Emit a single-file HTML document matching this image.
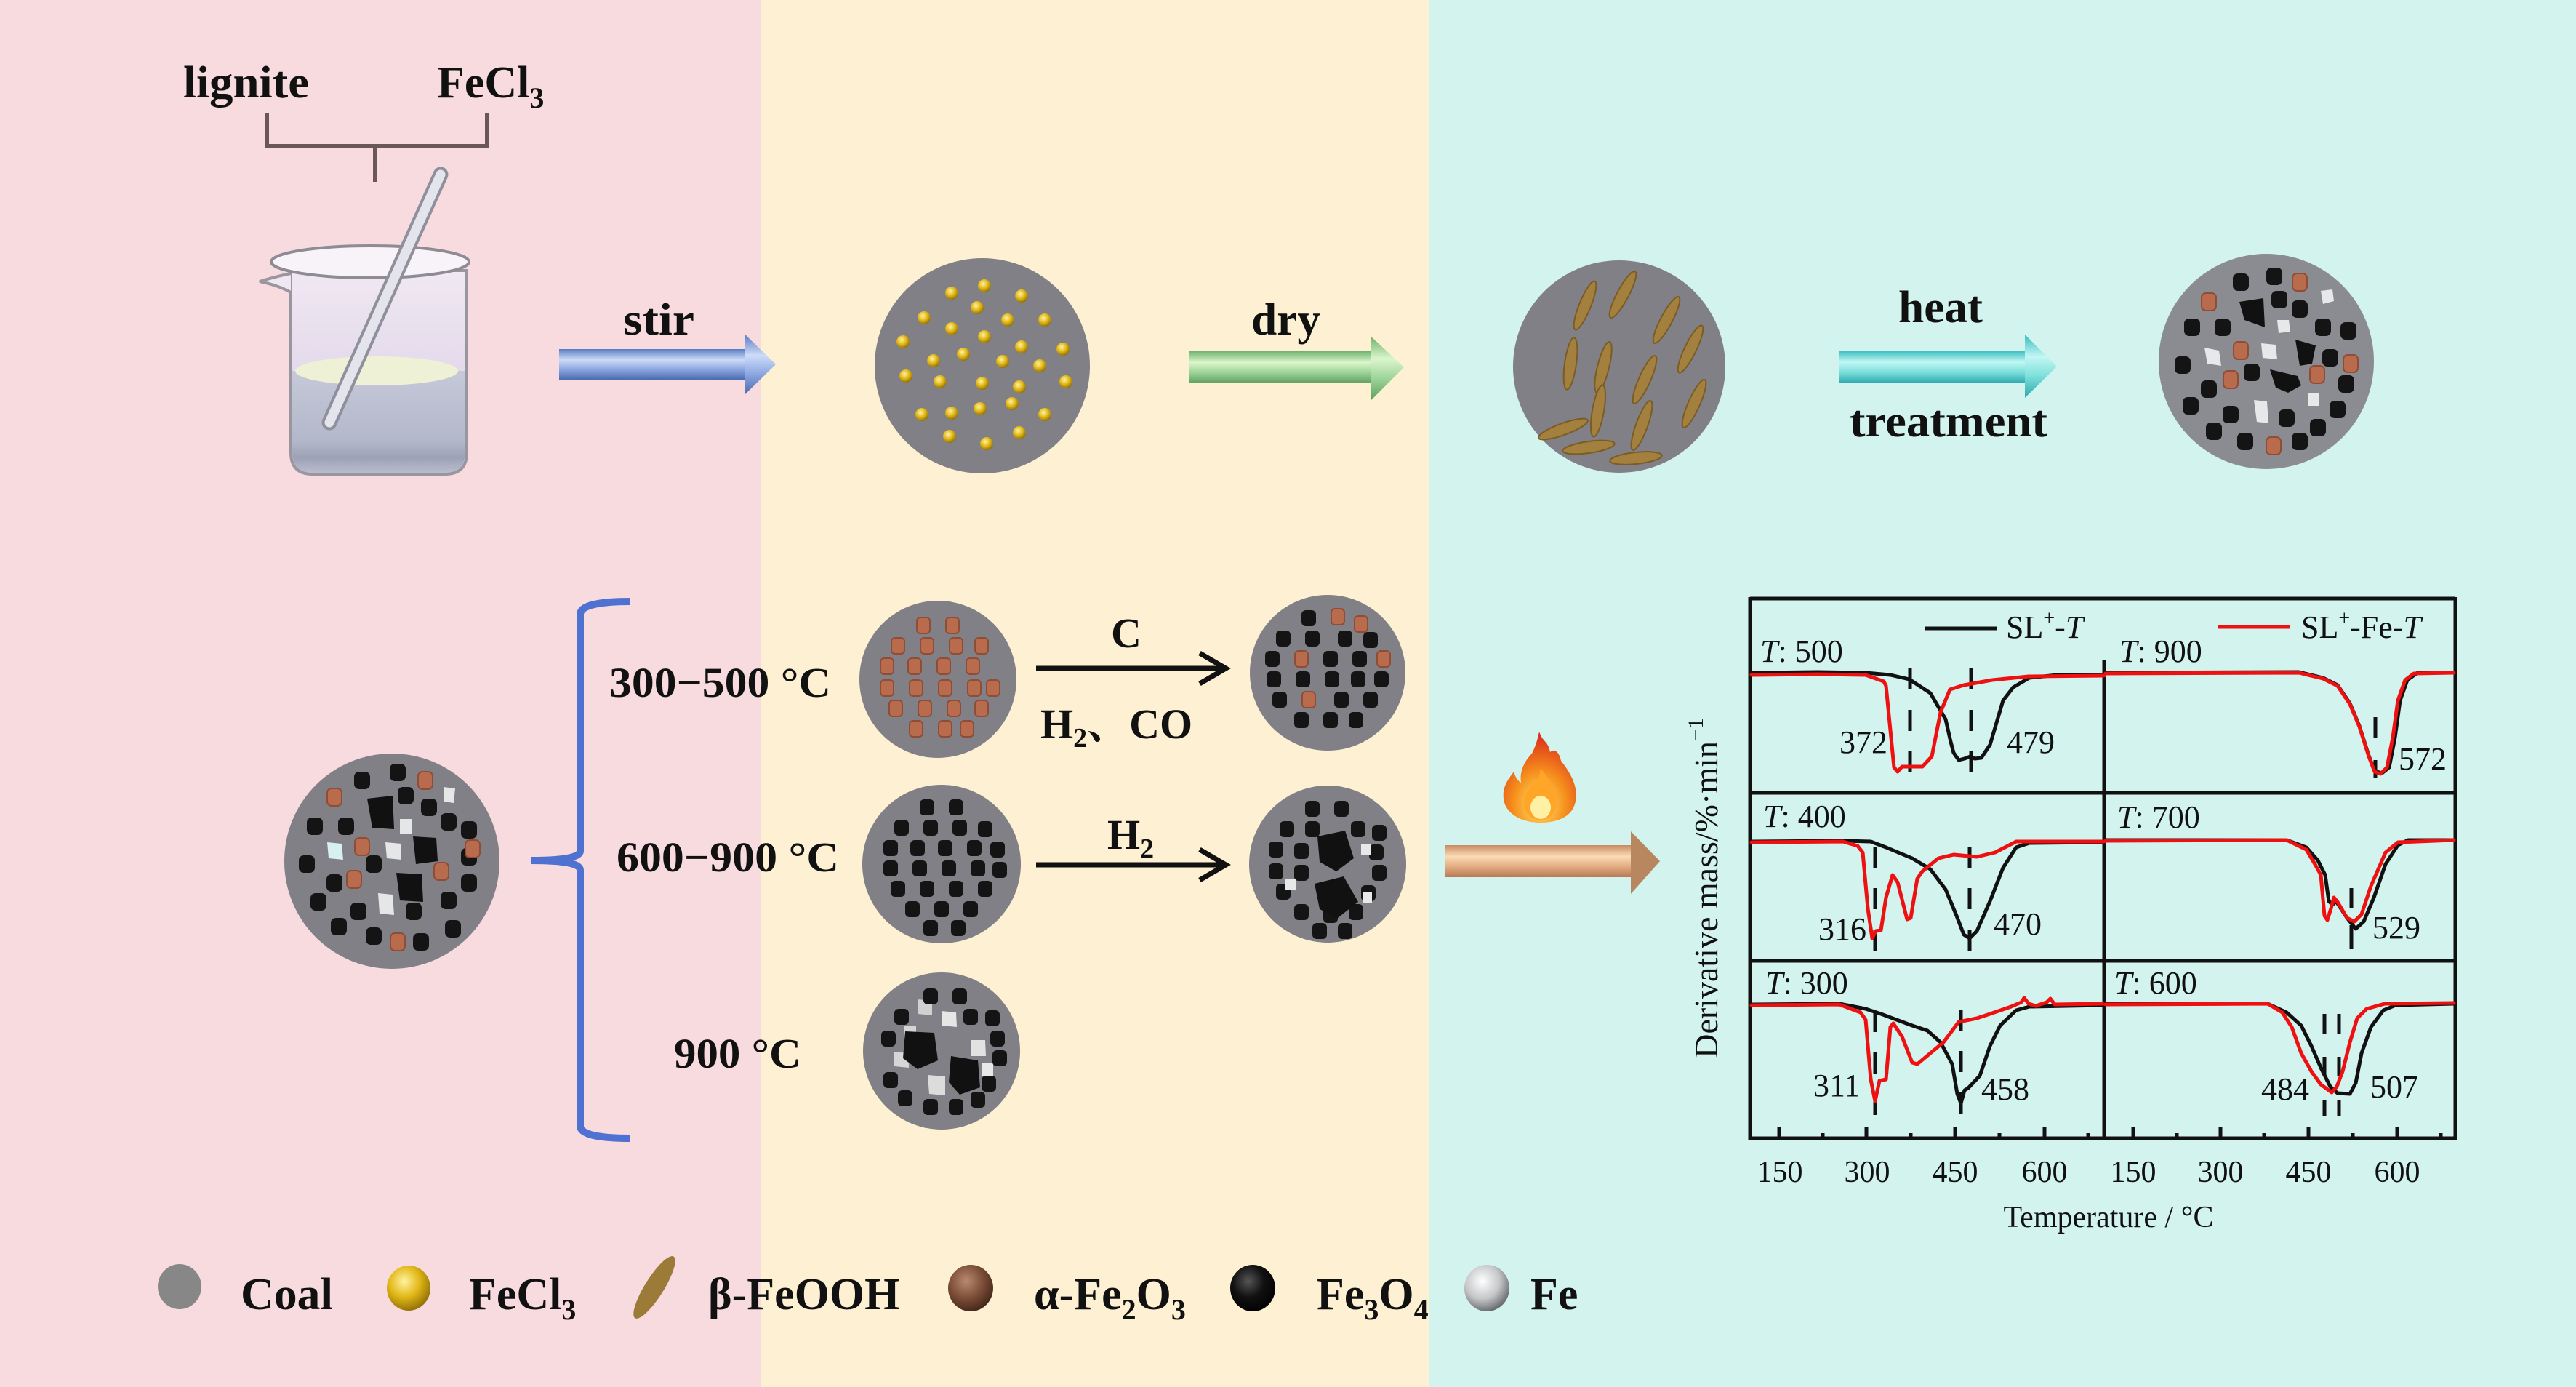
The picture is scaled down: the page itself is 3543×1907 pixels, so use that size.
<!DOCTYPE html>
<html><head><meta charset="utf-8"><style>
html,body{margin:0;padding:0;background:#fff;}
svg{display:block;}
.b{font-family:"Liberation Serif","Noto Serif CJK SC",serif;font-weight:bold;fill:#111;}
.r{font-family:"Liberation Serif","Noto Serif CJK SC",serif;fill:#111;}
</style></head><body>
<svg width="3543" height="1907" viewBox="0 0 3543 1907" xmlns="http://www.w3.org/2000/svg">
<defs>
<linearGradient id="gBlue" x1="0" y1="0" x2="0" y2="1"><stop offset="0" stop-color="#5a7cc4"/><stop offset=".35" stop-color="#cddcf8"/><stop offset=".65" stop-color="#8fa9e2"/><stop offset="1" stop-color="#4c6bb0"/></linearGradient>
<linearGradient id="gGreen" x1="0" y1="0" x2="0" y2="1"><stop offset="0" stop-color="#6fb36f"/><stop offset=".35" stop-color="#dcf6cc"/><stop offset=".65" stop-color="#9fd59a"/><stop offset="1" stop-color="#5fa060"/></linearGradient>
<linearGradient id="gCyan" x1="0" y1="0" x2="0" y2="1"><stop offset="0" stop-color="#36bcbf"/><stop offset=".35" stop-color="#c2f7f4"/><stop offset=".65" stop-color="#7fe0dc"/><stop offset="1" stop-color="#2ea9ad"/></linearGradient>
<linearGradient id="gOrange" x1="0" y1="0" x2="0" y2="1"><stop offset="0" stop-color="#c88a62"/><stop offset=".35" stop-color="#fadcb6"/><stop offset=".65" stop-color="#e4ae84"/><stop offset="1" stop-color="#b87a55"/></linearGradient>
<linearGradient id="gGlass" x1="0" y1="0" x2="0" y2="1"><stop offset="0" stop-color="#f0e8f2"/><stop offset="1" stop-color="#d6cbe5"/></linearGradient>
<linearGradient id="gLiq" x1="0" y1="0" x2="0" y2="1"><stop offset="0" stop-color="#c5c9d8"/><stop offset=".7" stop-color="#b2b7ca"/><stop offset=".85" stop-color="#9ca1b5"/><stop offset="1" stop-color="#b8bccc"/></linearGradient>
<radialGradient id="gGold" cx=".4" cy=".35" r=".7"><stop offset="0" stop-color="#fff3a0"/><stop offset=".5" stop-color="#e2b818"/><stop offset="1" stop-color="#8a6a05"/></radialGradient>
<radialGradient id="gBrownB" cx=".4" cy=".35" r=".7"><stop offset="0" stop-color="#b98a70"/><stop offset=".55" stop-color="#7a4c36"/><stop offset="1" stop-color="#3e2418"/></radialGradient>
<radialGradient id="gBlackB" cx=".4" cy=".35" r=".7"><stop offset="0" stop-color="#555"/><stop offset=".5" stop-color="#111"/><stop offset="1" stop-color="#000"/></radialGradient>
<radialGradient id="gSilver" cx=".4" cy=".35" r=".7"><stop offset="0" stop-color="#ffffff"/><stop offset=".55" stop-color="#c4c6c8"/><stop offset="1" stop-color="#5e6064"/></radialGradient>
<radialGradient id="gFlame" cx=".5" cy=".8" r=".8"><stop offset="0" stop-color="#ffe66b"/><stop offset=".45" stop-color="#f6901c"/><stop offset="1" stop-color="#d8241a"/></radialGradient>
<rect id="bs" x="-11" y="-12" width="22" height="24" rx="7" fill="#141414"/>
<rect id="br" x="-10" y="-12" width="20" height="24" rx="6" fill="#b86c4d" stroke="#8e4d34" stroke-width="2"/>
<rect id="bsS" x="-10" y="-11" width="20" height="22" rx="6" fill="#141414"/>
<rect id="brS" x="-9" y="-11" width="18" height="22" rx="5" fill="#b86c4d" stroke="#8e4d34" stroke-width="2"/>
<circle id="gd" r="9" fill="url(#gGold)"/>
<ellipse id="rod" rx="36" ry="8" fill="#a3803e" stroke="#7a5c24" stroke-width="2"/>
</defs>

<!-- backgrounds -->
<rect x="0" y="0" width="1047" height="1907" fill="#f8dbdf"/>
<rect x="1047" y="0" width="918" height="1907" fill="#fdf0d3"/>
<rect x="1965" y="0" width="1578" height="1907" fill="#d3f3ee"/>

<!-- top row -->
<text class="b" x="252" y="134" font-size="62" textLength="173" lengthAdjust="spacingAndGlyphs">lignite</text>
<text class="b" x="601" y="134" font-size="62">FeCl<tspan font-size="40" dy="14">3</tspan></text>
<path d="M367,156 L367,201 L670,201 L670,156 M516,201 L516,250" fill="none" stroke="#6b5757" stroke-width="6"/>

<!-- beaker -->
<path d="M400,372 L400,622 Q400,652 430,652 L612,652 Q642,652 642,622 L642,372 Z" fill="url(#gGlass)" stroke="#9a969f" stroke-width="4"/>
<path d="M402,510 L402,620 Q402,650 430,650 L612,650 Q640,650 640,620 L640,510 Z" fill="url(#gLiq)"/>
<ellipse cx="518" cy="510" rx="112" ry="20" fill="#eff1d6"/>
<path d="M400,376 Q380,380 357,387 Q382,392 400,402" fill="#efe8f2" stroke="#9a969f" stroke-width="4"/>
<ellipse cx="509" cy="360" rx="136" ry="22" fill="#f7f3f8" stroke="#8f8b94" stroke-width="4"/>
<line x1="606" y1="240" x2="453" y2="581" stroke="#8f909c" stroke-width="21" stroke-linecap="round"/>
<line x1="606" y1="240" x2="453" y2="581" stroke="#e4e4ec" stroke-width="13" stroke-linecap="round"/>

<!-- stir arrow -->
<text class="b" x="857" y="460" font-size="62" textLength="98" lengthAdjust="spacingAndGlyphs">stir</text>
<rect x="769" y="480" width="260" height="42" fill="url(#gBlue)"/>
<polygon points="1025,460 1067,501 1025,542" fill="url(#gBlue)"/>

<!-- yellow dot circle -->
<circle cx="1351" cy="503" r="148" fill="#808086"/>
<g>
<use href="#gd" x="1354" y="393"/><use href="#gd" x="1309" y="403"/><use href="#gd" x="1405" y="407"/><use href="#gd" x="1344" y="423"/><use href="#gd" x="1271" y="437"/><use href="#gd" x="1386" y="440"/><use href="#gd" x="1437" y="440"/><use href="#gd" x="1309" y="452"/><use href="#gd" x="1354" y="463"/><use href="#gd" x="1405" y="477"/><use href="#gd" x="1242" y="470"/><use href="#gd" x="1462" y="480"/><use href="#gd" x="1325" y="487"/><use href="#gd" x="1284" y="496"/><use href="#gd" x="1379" y="497"/><use href="#gd" x="1430" y="503"/><use href="#gd" x="1246" y="517"/><use href="#gd" x="1293" y="525"/><use href="#gd" x="1351" y="527"/><use href="#gd" x="1402" y="532"/><use href="#gd" x="1466" y="525"/><use href="#gd" x="1392" y="555"/><use href="#gd" x="1268" y="570"/><use href="#gd" x="1309" y="568"/><use href="#gd" x="1348" y="562"/><use href="#gd" x="1437" y="570"/><use href="#gd" x="1306" y="600"/><use href="#gd" x="1357" y="610"/><use href="#gd" x="1402" y="595"/>
</g>

<!-- dry arrow -->
<text class="b" x="1721" y="460" font-size="62" textLength="95" lengthAdjust="spacingAndGlyphs">dry</text>
<rect x="1635" y="483" width="253" height="44" fill="url(#gGreen)"/>
<polygon points="1886,463 1931,505 1886,550" fill="url(#gGreen)"/>

<!-- rods circle -->
<circle cx="2227" cy="504" r="146" fill="#808086"/>
<g>
<use href="#rod" transform="translate(2180,420) rotate(-68)"/>
<use href="#rod" transform="translate(2232,405) rotate(-62)"/>
<use href="#rod" transform="translate(2292,440) rotate(-62)"/>
<use href="#rod" transform="translate(2160,500) rotate(-82)"/>
<use href="#rod" transform="translate(2205,505) rotate(-76)"/>
<use href="#rod" transform="translate(2325,480) rotate(-64)"/>
<use href="#rod" transform="translate(2262,522) rotate(-66)"/>
<use href="#rod" transform="translate(2330,555) rotate(-66)"/>
<use href="#rod" transform="translate(2198,565) rotate(-80)"/>
<use href="#rod" transform="translate(2258,585) rotate(-70)"/>
<use href="#rod" transform="translate(2150,590) rotate(-20)"/>
<use href="#rod" transform="translate(2185,615) rotate(-8)"/>
<use href="#rod" transform="translate(2250,630) rotate(-6)"/>
</g>

<!-- heat treatment arrow -->
<text class="b" x="2611" y="443" font-size="62" textLength="116" lengthAdjust="spacingAndGlyphs">heat</text>
<rect x="2530" y="482" width="257" height="45" fill="url(#gCyan)"/>
<polygon points="2785,460 2829,504 2785,547" fill="url(#gCyan)"/>
<text class="b" x="2544" y="600" font-size="62" textLength="272" lengthAdjust="spacingAndGlyphs">treatment</text>

<!-- final circle top-right -->
<circle cx="3117" cy="497" r="148" fill="#8a8c92"/>
<g>
<use href="#bs" x="3082" y="388"/><use href="#bs" x="3128" y="380"/><use href="#bs" x="3135" y="412"/><use href="#bs" x="3163" y="425"/><use href="#bs" x="3015" y="450"/><use href="#bs" x="3057" y="450"/><use href="#bs" x="3195" y="450"/><use href="#bs" x="3230" y="455"/><use href="#bs" x="3002" y="502"/><use href="#bs" x="3097" y="512"/><use href="#bs" x="3205" y="492"/><use href="#bs" x="3227" y="528"/><use href="#bs" x="3038" y="535"/><use href="#bs" x="3013" y="558"/><use href="#bs" x="3068" y="570"/><use href="#bs" x="3145" y="575"/><use href="#bs" x="3215" y="563"/><use href="#bs" x="3045" y="593"/><use href="#bs" x="3088" y="607"/><use href="#bs" x="3163" y="607"/><use href="#bs" x="3188" y="588"/>
<use href="#br" x="3163" y="388"/><use href="#br" x="3038" y="415"/><use href="#br" x="3082" y="482"/><use href="#br" x="3068" y="522"/><use href="#br" x="3187" y="515"/><use href="#br" x="3233" y="500"/><use href="#br" x="3127" y="613"/>
<path d="M3192,400 L3208,398 L3210,414 L3195,418 Z" fill="#e6e8ea"/>
<path d="M3132,440 L3148,440 L3150,456 L3134,458 Z" fill="#e6e8ea"/>
<path d="M3032,478 L3052,482 L3055,503 L3036,500 Z" fill="#e6e8ea"/>
<path d="M3110,472 L3130,474 L3132,494 L3112,492 Z" fill="#e6e8ea"/>
<path d="M3100,550 L3118,552 L3120,582 L3104,580 Z" fill="#e6e8ea"/>
<path d="M3174,540 L3190,540 L3190,558 L3175,558 Z" fill="#e6e8ea"/>
<polygon points="3080,415 3113,410 3115,450 3087,440" fill="#111"/>
<polygon points="3157,467 3185,475 3180,500 3163,503" fill="#111"/>
<polygon points="3122,508 3160,517 3165,530 3147,540 3130,533" fill="#111"/>
</g>

<!-- row 2: big left circle -->
<circle cx="539" cy="1184" r="148" fill="#808086"/>
<g>
<use href="#bs" x="498" y="1073"/><use href="#bs" x="547" y="1062"/><use href="#bs" x="558" y="1094"/><use href="#bs" x="433" y="1136"/><use href="#bs" x="476" y="1136"/><use href="#bs" x="590" y="1110"/><use href="#bs" x="617" y="1130"/><use href="#bs" x="645" y="1141"/><use href="#bs" x="422" y="1188"/><use href="#bs" x="460" y="1214"/><use href="#bs" x="514" y="1188"/><use href="#bs" x="645" y="1178"/><use href="#bs" x="645" y="1214"/><use href="#bs" x="438" y="1240"/><use href="#bs" x="493" y="1253"/><use href="#bs" x="569" y="1253"/><use href="#bs" x="617" y="1238"/><use href="#bs" x="466" y="1274"/><use href="#bs" x="514" y="1287"/><use href="#bs" x="579" y="1295"/><use href="#bs" x="623" y="1277"/>
<use href="#br" x="460" y="1096"/><use href="#br" x="585" y="1073"/><use href="#br" x="498" y="1164"/><use href="#br" x="650" y="1167"/><use href="#br" x="487" y="1209"/><use href="#br" x="607" y="1198"/><use href="#br" x="547" y="1295"/>
<path d="M610,1082 L626,1084 L624,1104 L610,1102 Z" fill="#e4e6e8"/>
<path d="M550,1126 L566,1126 L566,1146 L550,1146 Z" fill="#e4e6e8"/>
<path d="M450,1158 L470,1160 L472,1182 L452,1180 Z" fill="#d8f0f0"/>
<path d="M530,1158 L552,1160 L552,1182 L532,1180 Z" fill="#e4e6e8"/>
<path d="M520,1228 L540,1230 L542,1258 L522,1256 Z" fill="#e4e6e8"/>
<polygon points="505,1098 540,1094 542,1140 512,1138" fill="#111"/>
<polygon points="568,1150 600,1152 602,1184 572,1188" fill="#111"/>
<polygon points="545,1200 580,1202 582,1240 550,1238" fill="#111"/>
</g>

<!-- blue bracket -->
<path d="M867,827 Q798,827 798,845 L798,1170 Q798,1183 731,1183 Q798,1183 798,1196 L798,1548 Q798,1565 867,1565" fill="none" stroke="#4f72d2" stroke-width="10"/>

<text class="b" x="838" y="958" font-size="58" textLength="305" lengthAdjust="spacingAndGlyphs">300−500 °C</text>
<text class="b" x="848" y="1198" font-size="58" textLength="306" lengthAdjust="spacingAndGlyphs">600−900 °C</text>
<text class="b" x="927" y="1468" font-size="58" textLength="175" lengthAdjust="spacingAndGlyphs">900 °C</text>

<!-- circle E brown -->
<circle cx="1290" cy="934" r="108" fill="#808086"/>
<g>
<use href="#brS" x="1270" y="860"/><use href="#brS" x="1310" y="860"/>
<use href="#brS" x="1235" y="888"/><use href="#brS" x="1275" y="888"/><use href="#brS" x="1315" y="888"/><use href="#brS" x="1350" y="888"/>
<use href="#brS" x="1220" y="916"/><use href="#brS" x="1258" y="916"/><use href="#brS" x="1298" y="916"/><use href="#brS" x="1338" y="916"/>
<use href="#brS" x="1220" y="946"/><use href="#brS" x="1260" y="946"/><use href="#brS" x="1300" y="946"/><use href="#brS" x="1340" y="946"/><use href="#brS" x="1366" y="946"/>
<use href="#brS" x="1232" y="974"/><use href="#brS" x="1272" y="974"/><use href="#brS" x="1312" y="974"/><use href="#brS" x="1350" y="974"/>
<use href="#brS" x="1260" y="1002"/><use href="#brS" x="1300" y="1002"/><use href="#brS" x="1330" y="1002"/>
</g>

<text class="b" x="1528" y="890" font-size="58">C</text>
<line x1="1425" y1="919" x2="1682" y2="919" stroke="#111" stroke-width="7"/>
<polyline points="1650,898 1686,919 1650,940" fill="none" stroke="#111" stroke-width="7"/>
<text class="b" x="1431" y="1015" font-size="58">H<tspan font-size="38" dy="12">2</tspan><tspan dy="-12">、CO</tspan></text>

<!-- circle F -->
<circle cx="1826" cy="925" r="107" fill="#808086"/>
<g>
<use href="#bsS" x="1800" y="850"/><use href="#brS" x="1840" y="848"/><use href="#brS" x="1872" y="858"/>
<use href="#bsS" x="1765" y="878"/><use href="#bsS" x="1805" y="878"/><use href="#bsS" x="1850" y="878"/><use href="#bsS" x="1885" y="880"/>
<use href="#bsS" x="1750" y="906"/><use href="#brS" x="1790" y="906"/><use href="#bsS" x="1830" y="906"/><use href="#bsS" x="1870" y="906"/><use href="#brS" x="1903" y="906"/>
<use href="#bsS" x="1752" y="934"/><use href="#bsS" x="1792" y="934"/><use href="#bsS" x="1832" y="934"/><use href="#bsS" x="1868" y="934"/><use href="#bsS" x="1900" y="934"/>
<use href="#bsS" x="1760" y="962"/><use href="#brS" x="1800" y="962"/><use href="#bsS" x="1845" y="962"/><use href="#bsS" x="1885" y="962"/>
<use href="#bsS" x="1790" y="990"/><use href="#bsS" x="1830" y="990"/><use href="#bsS" x="1865" y="990"/>
</g>

<!-- circle G -->
<circle cx="1295" cy="1188" r="109" fill="#808086"/>
<g>
<use href="#bsS" x="1275" y="1110"/><use href="#bsS" x="1315" y="1110"/>
<use href="#bsS" x="1240" y="1138"/><use href="#bsS" x="1280" y="1138"/><use href="#bsS" x="1320" y="1138"/><use href="#bsS" x="1355" y="1140"/>
<use href="#bsS" x="1225" y="1166"/><use href="#bsS" x="1262" y="1166"/><use href="#bsS" x="1300" y="1166"/><use href="#bsS" x="1340" y="1166"/><use href="#bsS" x="1372" y="1168"/>
<use href="#bsS" x="1225" y="1194"/><use href="#bsS" x="1265" y="1194"/><use href="#bsS" x="1305" y="1194"/><use href="#bsS" x="1345" y="1194"/><use href="#bsS" x="1375" y="1196"/>
<use href="#bsS" x="1235" y="1222"/><use href="#bsS" x="1275" y="1222"/><use href="#bsS" x="1315" y="1222"/><use href="#bsS" x="1355" y="1222"/>
<use href="#bsS" x="1255" y="1250"/><use href="#bsS" x="1295" y="1250"/><use href="#bsS" x="1335" y="1250"/>
<use href="#bsS" x="1280" y="1276"/><use href="#bsS" x="1318" y="1276"/>
</g>

<text class="b" x="1523" y="1167" font-size="58">H<tspan font-size="38" dy="12">2</tspan></text>
<line x1="1425" y1="1189" x2="1682" y2="1189" stroke="#111" stroke-width="7"/>
<polyline points="1650,1168 1686,1189 1650,1210" fill="none" stroke="#111" stroke-width="7"/>

<!-- circle H -->
<circle cx="1826" cy="1188" r="108" fill="#808086"/>
<g>
<use href="#bsS" x="1805" y="1112"/><use href="#bsS" x="1845" y="1112"/>
<use href="#bsS" x="1770" y="1140"/><use href="#bsS" x="1805" y="1140"/><use href="#bsS" x="1868" y="1140"/><use href="#bsS" x="1897" y="1145"/>
<use href="#bsS" x="1755" y="1168"/><use href="#bsS" x="1790" y="1170"/><use href="#bsS" x="1893" y="1172"/>
<use href="#bsS" x="1755" y="1198"/><use href="#bsS" x="1790" y="1200"/><use href="#bsS" x="1897" y="1200"/>
<use href="#bsS" x="1765" y="1226"/><use href="#bsS" x="1882" y="1228"/>
<use href="#bsS" x="1790" y="1254"/><use href="#bsS" x="1830" y="1258"/><use href="#bsS" x="1865" y="1254"/>
<use href="#bsS" x="1815" y="1280"/><use href="#bsS" x="1850" y="1280"/>
<polygon points="1812,1150 1850,1142 1862,1180 1838,1198 1815,1185" fill="#111"/>
<polygon points="1808,1215 1848,1205 1868,1240 1840,1262 1815,1250" fill="#111"/>
<rect x="1872" y="1160" width="14" height="16" fill="#e6e8ea"/>
<rect x="1768" y="1208" width="14" height="16" fill="#e6e8ea"/>
<rect x="1875" y="1226" width="12" height="16" fill="#e6e8ea"/>
</g>

<!-- circle I -->
<circle cx="1295" cy="1445" r="108" fill="#808086"/>
<g>
<path d="M1262,1374 L1282,1376 L1282,1396 L1262,1394 Z" fill="#d0d0d0"/>
<path d="M1295,1390 L1315,1392 L1316,1412 L1296,1410 Z" fill="#e6e6e6"/>
<path d="M1230,1446 L1250,1448 L1250,1468 L1230,1466 Z" fill="#d6d6d6"/>
<path d="M1335,1430 L1355,1430 L1356,1452 L1336,1452 Z" fill="#e2e2e2"/>
<path d="M1276,1478 L1300,1480 L1300,1506 L1278,1504 Z" fill="#dcdcdc"/>
<path d="M1350,1462 L1366,1462 L1366,1480 L1350,1480 Z" fill="#e8e8e8"/>
<path d="M1244,1410 L1260,1410 L1260,1428 L1244,1428 Z" fill="#d4d4d4"/>
<use href="#bsS" x="1280" y="1370"/><use href="#bsS" x="1320" y="1370"/>
<use href="#bsS" x="1240" y="1398"/><use href="#bsS" x="1335" y="1398"/><use href="#bsS" x="1365" y="1400"/>
<use href="#bsS" x="1222" y="1428"/><use href="#bsS" x="1372" y="1428"/>
<use href="#bsS" x="1225" y="1485"/><use href="#bsS" x="1375" y="1455"/>
<use href="#bsS" x="1245" y="1510"/><use href="#bsS" x="1360" y="1490"/>
<use href="#bsS" x="1280" y="1522"/><use href="#bsS" x="1315" y="1522"/><use href="#bsS" x="1345" y="1512"/>
<polygon points="1245,1418 1285,1420 1290,1458 1262,1470 1242,1455" fill="#111"/>
<polygon points="1308,1452 1345,1458 1348,1495 1320,1505 1305,1488" fill="#111"/>
</g>

<!-- fire -->
<g transform="translate(2067,1006)">
<path d="M50,0 C55,15 62,12 65,28 C72,22 78,30 80,40 C92,55 104,75 100,95 C97,115 78,125 52,125 C25,125 3,112 1,92 C-1,75 8,65 15,55 C18,65 22,68 25,70 C22,50 35,35 40,30 C45,20 48,10 50,0 Z" fill="url(#gFlame)"/>
<path d="M52,50 C60,62 74,76 74,96 C74,112 64,121 52,121 C38,121 29,112 29,98 C29,84 40,74 45,64 C48,72 50,64 52,50 Z" fill="#ffa628"/>
<ellipse cx="52" cy="104" rx="14" ry="16" fill="#fff1a4"/>
</g>

<!-- orange arrow -->
<rect x="1988" y="1162" width="257" height="44" fill="url(#gOrange)"/>
<polygon points="2243,1143 2283,1184 2243,1229" fill="#b8865f"/>

<!-- ======= chart ======= -->
<g fill="none" stroke="#111" stroke-width="5">
<line x1="2407" y1="823" x2="3377" y2="823"/>
<line x1="2407" y1="1565" x2="3377" y2="1565"/>
<line x1="2407" y1="821" x2="2407" y2="1567"/>
<line x1="3377" y1="821" x2="3377" y2="1567"/>
<line x1="2894" y1="907" x2="2894" y2="1565"/>
<line x1="2407" y1="1090" x2="3377" y2="1090"/>
<line x1="2407" y1="1321" x2="3377" y2="1321"/>
</g>
<g stroke="#111" stroke-width="5">
<line x1="2447" y1="1565" x2="2447" y2="1550"/><line x1="2567" y1="1565" x2="2567" y2="1550"/><line x1="2689" y1="1565" x2="2689" y2="1550"/><line x1="2812" y1="1565" x2="2812" y2="1550"/>
<line x1="2507" y1="1565" x2="2507" y2="1558"/><line x1="2628" y1="1565" x2="2628" y2="1558"/><line x1="2750" y1="1565" x2="2750" y2="1558"/><line x1="2872" y1="1565" x2="2872" y2="1558"/>
<line x1="2934" y1="1565" x2="2934" y2="1550"/><line x1="3054" y1="1565" x2="3054" y2="1550"/><line x1="3175" y1="1565" x2="3175" y2="1550"/><line x1="3297" y1="1565" x2="3297" y2="1550"/>
<line x1="2994" y1="1565" x2="2994" y2="1558"/><line x1="3114" y1="1565" x2="3114" y2="1558"/><line x1="3236" y1="1565" x2="3236" y2="1558"/><line x1="3357" y1="1565" x2="3357" y2="1558"/>
</g>
<g class="r" font-size="42" text-anchor="middle">
<text x="2448" y="1625">150</text><text x="2568" y="1625">300</text><text x="2689" y="1625">450</text><text x="2812" y="1625">600</text>
<text x="2934" y="1625">150</text><text x="3054" y="1625">300</text><text x="3175" y="1625">450</text><text x="3297" y="1625">600</text>
<text x="2900" y="1687">Temperature / °C</text>
</g>
<text class="r" font-size="46" text-anchor="middle" transform="translate(2362,1221) rotate(-90)">Derivative mass/%·min<tspan font-size="30" dy="-20">−1</tspan></text>

<!-- legend -->
<line x1="2648" y1="864" x2="2746" y2="864" stroke="#111" stroke-width="5"/>
<text class="r" x="2759" y="877" font-size="44">SL<tspan font-size="28" dy="-18">+</tspan><tspan dy="18">-</tspan><tspan font-style="italic">T</tspan></text>
<line x1="3051" y1="862" x2="3150" y2="862" stroke="#ee1111" stroke-width="5"/>
<text class="r" x="3165" y="877" font-size="44">SL<tspan font-size="28" dy="-18">+</tspan><tspan dy="18">-Fe-</tspan><tspan font-style="italic">T</tspan></text>

<!-- panel titles -->
<g class="r" font-size="44">
<text x="2421" y="910"><tspan font-style="italic">T</tspan>: 500</text>
<text x="2425" y="1137"><tspan font-style="italic">T</tspan>: 400</text>
<text x="2428" y="1366"><tspan font-style="italic">T</tspan>: 300</text>
<text x="2915" y="910"><tspan font-style="italic">T</tspan>: 900</text>
<text x="2912" y="1138"><tspan font-style="italic">T</tspan>: 700</text>
<text x="2908" y="1366"><tspan font-style="italic">T</tspan>: 600</text>
<text x="2530" y="1035">372</text><text x="2760" y="1035">479</text>
<text x="2501" y="1292">316</text><text x="2742" y="1285">470</text>
<text x="2494" y="1507">311</text><text x="2725" y="1512">458</text>
<text x="3299" y="1058">572</text><text x="3263" y="1290">529</text>
<text x="3110" y="1512">484</text><text x="3260" y="1509">507</text>
</g>

<!-- dashed markers -->
<g stroke="#111" stroke-width="5" stroke-dasharray="29 28">
<line x1="2627" y1="919" x2="2627" y2="1066"/>
<line x1="2711" y1="919" x2="2711" y2="1066"/>
<line x1="2579" y1="1164" x2="2579" y2="1312"/>
<line x1="2709" y1="1164" x2="2709" y2="1312"/>
<line x1="2579" y1="1390" x2="2579" y2="1548"/>
<line x1="2697" y1="1388" x2="2697" y2="1534"/>
</g>
<g stroke="#111" stroke-width="5">
<line x1="3267" y1="986" x2="3267" y2="1014"/><line x1="3267" y1="1045" x2="3267" y2="1070"/>
<line x1="3234" y1="1221" x2="3234" y2="1249"/><line x1="3234" y1="1272" x2="3234" y2="1305"/>
<line x1="3197" y1="1394" x2="3197" y2="1422"/><line x1="3197" y1="1453" x2="3197" y2="1479"/><line x1="3197" y1="1512" x2="3197" y2="1535"/>
<line x1="3217" y1="1394" x2="3217" y2="1422"/><line x1="3217" y1="1453" x2="3217" y2="1479"/><line x1="3217" y1="1512" x2="3217" y2="1535"/>
</g>

<!-- curves -->
<g fill="none" stroke-width="5" stroke-linejoin="round" stroke-linecap="round">
<polyline stroke="#111" points="2409,925 2500,924 2566,925 2600,928 2626,934 2655,953 2676,989 2683,1020 2687,1035 2694,1045 2702,1043 2710,1040 2716,1043 2725,1042 2737,1024 2755,963 2769,945 2791,932 2830,928 2894,928"/>
<polyline stroke="#ee1111" points="2409,928 2500,927 2566,928 2591,937 2594,943 2605,1055 2610,1061 2616,1054 2630,1054 2644,1054 2657,1040 2669,979 2682,948 2701,942 2740,935 2790,930 2894,929"/>
<polyline stroke="#111" points="2409,1157 2537,1156 2573,1157 2594,1165 2630,1180 2655,1195 2676,1223 2691,1259 2701,1285 2709,1290 2719,1280 2737,1239 2755,1193 2773,1165 2791,1159 2894,1158"/>
<polyline stroke="#ee1111" points="2409,1158 2535,1157 2555,1163 2562,1172 2569,1249 2575,1290 2580,1280 2587,1279 2594,1234 2603,1203 2610,1213 2623,1264 2628,1262 2637,1208 2644,1198 2666,1180 2687,1175 2719,1178 2744,1172 2773,1157 2894,1157"/>
<polyline stroke="#111" points="2409,1381 2530,1380 2566,1387 2587,1394 2630,1410 2651,1417 2669,1433 2685,1463 2692,1504 2697,1517 2702,1499 2707,1496 2723,1479 2737,1438 2751,1410 2773,1389 2791,1384 2894,1382"/>
<polyline stroke="#ee1111" points="2409,1382 2530,1381 2559,1392 2566,1402 2573,1484 2579,1514 2585,1486 2594,1484 2600,1412 2604,1407 2616,1425 2630,1461 2637,1463 2655,1448 2673,1433 2694,1405 2719,1400 2737,1394 2766,1384 2780,1378 2784,1372 2790,1380 2800,1383 2815,1378 2820,1373 2826,1381 2894,1380"/>
<polyline stroke="#111" points="2896,925 3162,924 3195,932 3215,942 3232,967 3245,998 3258,1039 3266,1060 3276,1063 3286,1055 3294,1014 3301,963 3311,935 3325,925 3375,925"/>
<polyline stroke="#ee1111" points="2896,926 3162,925 3195,933 3215,943 3232,968 3245,999 3258,1040 3266,1061 3274,1064 3283,1055 3291,1014 3298,963 3308,935 3320,926 3375,925"/>
<polyline stroke="#111" points="2896,1155 3145,1155 3172,1165 3188,1183 3198,1203 3203,1239 3208,1244 3213,1239 3228,1262 3240,1277 3251,1267 3265,1234 3281,1188 3298,1162 3312,1155 3375,1155"/>
<polyline stroke="#ee1111" points="2896,1156 3145,1155 3172,1168 3185,1190 3192,1203 3197,1259 3201,1265 3206,1249 3210,1234 3215,1240 3228,1262 3238,1267 3248,1257 3261,1218 3281,1172 3298,1158 3375,1155"/>
<polyline stroke="#111" points="2896,1380 3119,1380 3145,1392 3165,1410 3179,1438 3192,1468 3205,1494 3215,1503 3232,1504 3240,1489 3248,1448 3261,1412 3278,1389 3295,1382 3375,1380"/>
<polyline stroke="#ee1111" points="2896,1381 3119,1380 3139,1392 3152,1412 3165,1448 3179,1473 3192,1491 3207,1502 3214,1494 3222,1473 3232,1433 3242,1400 3255,1387 3280,1380 3375,1379"/>
</g>

<!-- bottom legend -->
<ellipse cx="247" cy="1769" rx="30" ry="31" fill="#878787"/>
<text class="b" x="331" y="1800" font-size="62" textLength="127" lengthAdjust="spacingAndGlyphs">Coal</text>
<ellipse cx="562" cy="1771" rx="30" ry="31" fill="url(#gGold)"/>
<text class="b" x="645" y="1800" font-size="62">FeCl<tspan font-size="40" dy="14">3</tspan></text>
<ellipse cx="900" cy="1770" rx="50" ry="13" transform="rotate(-58 900 1770)" fill="#9c7b38"/>
<text class="b" x="974" y="1800" font-size="62">β-FeOOH</text>
<ellipse cx="1335" cy="1771" rx="31" ry="32" fill="url(#gBrownB)"/>
<text class="b" x="1422" y="1800" font-size="62">α-Fe<tspan font-size="40" dy="14">2</tspan><tspan dy="-14">O</tspan><tspan font-size="40" dy="14">3</tspan></text>
<ellipse cx="1723" cy="1771" rx="31" ry="32" fill="url(#gBlackB)"/>
<text class="b" x="1811" y="1800" font-size="62">Fe<tspan font-size="40" dy="14">3</tspan><tspan dy="-14">O</tspan><tspan font-size="40" dy="14">4</tspan></text>
<ellipse cx="2045" cy="1771" rx="31" ry="32" fill="url(#gSilver)"/>
<text class="b" x="2105" y="1800" font-size="62">Fe</text>
</svg>
</body></html>
